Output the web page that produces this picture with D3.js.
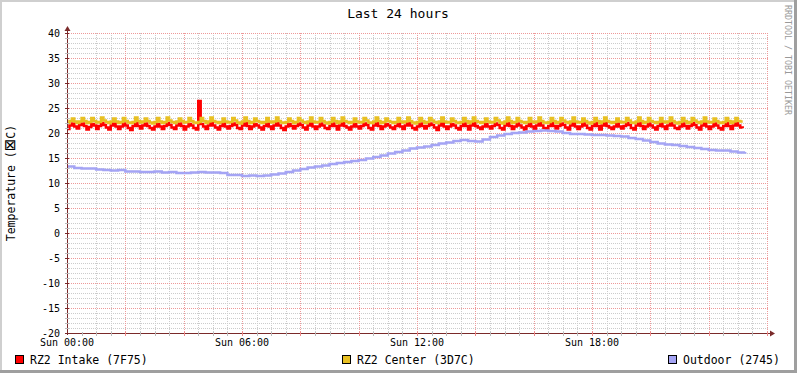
<!DOCTYPE html>
<html>
<head>
<meta charset="utf-8">
<script src="https://cdn.jsdelivr.net/npm/d3@7"></script>
<style>
body { margin: 0; background: #fff; }
svg text { font-family: "DejaVu Sans Mono", monospace; fill: #000; }
</style>
</head>
<body>
<svg id="chart" width="797" height="373"></svg>
<script>
// samples start Sunday 00:00
var startTime = new Date(2024, 0, 7, 0, 0);
var sampleMinutes = 5;      // intake / center step
var outdoorMinutes = 15;    // outdoor step

var intake = [
    20.8,21.5,21.9,21.3,20.9,21.6,21.9,21.4,20.7,
    21.2,21.8,21.5,20.8,21.4,22.0,21.6,21.1,20.7,
    21.5,21.9,21.3,20.8,21.3,21.9,21.5,21.0,20.6,
    21.4,22.0,21.4,20.9,21.5,21.9,21.4,21.0,20.7,
    21.3,21.8,21.3,20.8,21.4,22.0,21.6,21.1,20.8,
    21.5,21.9,21.4,20.7,21.3,21.8,21.5,21.0,20.7,
    26.4,21.8,21.3,20.8,21.5,22.0,21.5,21.1,20.7,
    21.4,21.9,21.3,20.9,21.4,21.9,21.6,21.0,20.8,
    21.5,22.0,21.4,20.8,21.3,21.8,21.5,21.1,20.7,
    21.4,21.9,21.3,20.8,21.5,22.0,21.5,21.0,20.6,
    21.3,21.8,21.4,20.9,21.4,21.9,21.6,21.1,20.7,
    21.5,22.0,21.3,20.8,21.3,21.9,21.5,21.0,20.8,
    21.4,21.9,21.4,20.7,21.5,22.0,21.4,21.1,20.7,
    21.3,21.8,21.3,20.9,21.4,21.9,21.6,21.0,20.7,
    21.5,22.0,21.4,20.8,21.3,21.8,21.5,21.1,20.8,
    21.4,21.9,21.3,20.8,21.5,22.0,21.5,21.0,20.7,
    21.3,21.9,21.4,20.9,21.4,21.9,21.6,21.1,20.6,
    21.5,22.0,21.3,20.8,21.3,21.8,21.5,21.0,20.7,
    21.4,21.9,21.4,20.7,21.5,22.0,21.4,21.1,20.8,
    21.3,21.8,21.3,20.9,21.4,21.9,21.6,21.0,20.7,
    21.5,22.0,21.4,20.8,21.3,21.9,21.5,21.1,20.7,
    21.4,21.9,21.3,20.8,21.5,22.1,21.5,21.0,20.8,
    21.4,22.0,21.4,20.9,21.4,21.9,21.6,21.1,20.7,
    21.5,22.1,21.3,20.8,21.3,21.9,21.5,21.0,20.7,
    21.4,22.0,21.4,20.7,21.5,22.1,21.4,21.1,20.8,
    21.3,21.9,21.3,20.9,21.4,22.0,21.6,21.0,20.7,
    21.5,22.1,21.4,20.8,21.3,21.9,21.5,21.1,20.7,
    21.4,22.0,21.3,20.8,21.5,22.1,21.5,21.0,20.8,
    21.3,21.9,21.4,20.9,21.4,22.0,21.6,21.1,20.7,
    21.5,22.1,21.3,20.8,21.3,21.9,21.5,21.0,20.7,
    21.4,22.0,21.4,20.8,21.5,22.0,21.5,21.1,21.0
];

var center = [
    22.0,22.4,22.9,22.3,22.0,22.3,23.0,22.4,22.0,
    22.2,23.0,22.4,22.1,22.2,23.1,22.5,22.2,22.0,
    22.3,22.9,22.3,22.0,22.2,23.0,22.4,22.1,22.0,
    22.2,23.1,22.4,22.1,22.3,22.9,22.4,22.1,21.9,
    22.2,23.0,22.3,22.0,22.2,23.1,22.5,22.2,22.0,
    22.3,22.9,22.4,22.1,22.2,23.0,22.4,22.1,22.0,
    22.2,23.0,22.4,22.0,22.3,23.1,22.4,22.2,22.0,
    22.2,22.9,22.3,22.1,22.2,23.0,22.5,22.1,21.9,
    22.3,23.1,22.4,22.0,22.2,22.9,22.4,22.2,22.0,
    22.2,23.0,22.3,22.1,22.3,23.1,22.4,22.1,22.0,
    22.2,22.9,22.4,22.0,22.2,23.0,22.5,22.2,22.0,
    22.3,23.1,22.3,22.1,22.2,23.0,22.4,22.1,21.9,
    22.2,23.0,22.4,22.0,22.3,23.1,22.4,22.2,22.0,
    22.2,22.9,22.3,22.1,22.2,23.0,22.5,22.1,22.0,
    22.3,23.1,22.4,22.0,22.2,22.9,22.4,22.2,22.0,
    22.2,23.0,22.3,22.1,22.3,23.1,22.4,22.1,21.9,
    22.2,23.0,22.4,22.0,22.2,23.0,22.5,22.2,22.0,
    22.3,23.1,22.3,22.1,22.2,22.9,22.4,22.1,22.0,
    22.2,23.0,22.4,22.0,22.3,23.1,22.4,22.2,22.0,
    22.2,22.9,22.3,22.1,22.2,23.0,22.5,22.1,21.9,
    22.3,23.1,22.4,22.0,22.2,23.0,22.4,22.2,22.0,
    22.2,23.0,22.3,22.1,22.3,23.1,22.4,22.1,22.0,
    22.2,23.0,22.4,22.0,22.2,23.0,22.5,22.2,22.0,
    22.3,23.1,22.3,22.1,22.2,22.9,22.4,22.1,21.9,
    22.2,23.0,22.4,22.0,22.3,23.1,22.4,22.2,22.0,
    22.2,22.9,22.3,22.1,22.2,23.0,22.5,22.1,22.0,
    22.3,23.1,22.4,22.0,22.2,23.0,22.4,22.2,22.0,
    22.2,23.0,22.3,22.1,22.3,23.1,22.4,22.1,21.9,
    22.2,23.0,22.4,22.0,22.2,23.0,22.5,22.2,22.0,
    22.3,23.1,22.3,22.1,22.2,22.9,22.4,22.1,22.0,
    22.2,23.0,22.4,22.0,22.3,23.0,22.4,22.3,22.3
];

var outdoor = [
    13.3,13.0,12.9,12.9,12.7,12.6,12.5,12.6,12.3,12.3,
    12.2,12.2,12.3,12.1,12.2,12.0,12.0,12.1,12.2,12.1,
    12.1,12.0,11.6,11.6,11.4,11.5,11.4,11.5,11.7,11.9,
    12.2,12.5,12.8,13.1,13.3,13.5,13.8,14.0,14.2,14.4,
    14.6,14.9,15.2,15.5,15.9,16.2,16.5,16.9,17.1,17.3,
    17.6,17.9,18.1,18.4,18.6,18.4,18.3,18.7,19.2,19.5,
    19.8,20.0,20.1,20.3,20.4,20.5,20.4,20.3,20.0,19.8,
    19.8,19.7,19.6,19.6,19.5,19.4,19.3,19.0,18.8,18.5,
    18.2,17.9,17.7,17.6,17.4,17.2,17.0,16.8,16.6,16.5,
    16.5,16.3,16.1,16.2
];

var yTickValues = [-20, -15, -10, -5, 0, 5, 10, 15, 20, 25, 30, 35, 40];
var xLabelHours = [0, 6, 12, 18];
var legendLabels = ["RZ2 Intake (7F75)", "RZ2 Center (3D7C)", "Outdoor (2745)"];
var titleText = "Last 24 hours";
var yTitleParts = ["Temperature (", "\u22A0", "C)"];
var watermark = "RRDTOOL / TOBI OETIKER";

var colors = ["#ff0000", "#e8c022", "#a4a4f4"];

var W = 797, H = 373;
var svg = d3.select("#chart");

var x = d3.scaleTime().domain([startTime, d3.timeHour.offset(startTime, 24)]).range([67, 767]);
var y = d3.scaleLinear().domain([-20, 40]).range([333, 33]);

// background + shade border
svg.append("rect").attr("width", W).attr("height", H).attr("fill", "#fff");
svg.append("rect").attr("x", 0).attr("y", 0).attr("width", W).attr("height", 2).attr("fill", "#cfcfcf");
svg.append("rect").attr("x", 0).attr("y", 0).attr("width", 2).attr("height", H).attr("fill", "#cfcfcf");
svg.append("rect").attr("x", W - 3).attr("y", 0).attr("width", 3).attr("height", H).attr("fill", "#9f9f9f");
svg.append("rect").attr("x", 0).attr("y", H - 3).attr("width", W).attr("height", 3).attr("fill", "#9f9f9f");

var grid = svg.append("g").attr("shape-rendering", "crispEdges").attr("stroke-dasharray", "1,1");
var x0 = x.range()[0], x1 = x.range()[1] + 2, y0 = y.range()[0], y1 = y.range()[1];

// minor grid
var minorX = x.ticks(d3.timeMinute.every(30)).filter(function(d) { return d.getMinutes() !== 0 || d.getHours() % 2 !== 0; });
var minorY = d3.range(-20, 41, 1).filter(function(v) { return v % 5 !== 0; });
grid.selectAll("line.mx").data(minorX.slice(1)).enter().append("line").attr("class", "mx")
    .attr("x1", function(d) { return Math.round(x(d)) + .5; }).attr("x2", function(d) { return Math.round(x(d)) + .5; })
    .attr("y1", y1).attr("y2", y0).attr("stroke", "#cccccc");
grid.selectAll("line.my").data(minorY).enter().append("line").attr("class", "my")
    .attr("x1", x0).attr("x2", x1)
    .attr("y1", function(d) { return Math.round(y(d)) + .5; }).attr("y2", function(d) { return Math.round(y(d)) + .5; })
    .attr("stroke", "#cccccc");

// major grid
var majorX = x.ticks(d3.timeHour.every(2)).slice(1);
grid.selectAll("line.Mx").data(majorX).enter().append("line").attr("class", "Mx")
    .attr("x1", function(d) { return Math.round(x(d)) + .5; }).attr("x2", function(d) { return Math.round(x(d)) + .5; })
    .attr("y1", y1).attr("y2", y0).attr("stroke", "#ee9999");
grid.selectAll("line.My").data(yTickValues.slice(1)).enter().append("line").attr("class", "My")
    .attr("x1", x0).attr("x2", x1)
    .attr("y1", function(d) { return Math.round(y(d)) + .5; }).attr("y2", function(d) { return Math.round(y(d)) + .5; })
    .attr("stroke", "#ee9999");

// series
function series(vals, step) {
    return vals.map(function(v, i) { return { t: d3.timeMinute.offset(startTime, i * step), v: v }; });
}
var line = d3.line().x(function(d) { return x(d.t); }).y(function(d) { return y(d.v); }).curve(d3.curveStepAfter);
var data = [series(intake, sampleMinutes), series(center, sampleMinutes), series(outdoor, outdoorMinutes)];
svg.append("g").selectAll("path").data(data).enter().append("path")
    .attr("d", line).attr("fill", "none")
    .attr("stroke", function(d, i) { return colors[i]; })
    .attr("stroke-width", 2.5).attr("stroke-linejoin", "miter");

// axes
var axisColor = "#7a2a2a";
var ax = svg.append("g").attr("shape-rendering", "crispEdges");
ax.append("line").attr("x1", x0 - 2).attr("x2", 770).attr("y1", y0 + .5).attr("y2", y0 + .5).attr("stroke", axisColor);
ax.append("line").attr("x1", x0 + .5).attr("x2", x0 + .5).attr("y1", y0 + 2).attr("y2", 30).attr("stroke", axisColor);
svg.append("path").attr("d", "M770,330.5L775,333.5L770,336.5Z").attr("fill", axisColor);
svg.append("path").attr("d", "M64.5,31L67.5,26L70.5,31Z").attr("fill", axisColor);

// tick marks
ax.selectAll("line.tx").data(x.ticks(d3.timeMinute.every(30)).slice(1)).enter().append("line")
    .attr("x1", function(d) { return Math.round(x(d)) + .5; }).attr("x2", function(d) { return Math.round(x(d)) + .5; })
    .attr("y1", y0 - 1).attr("y2", y0 + 3)
    .attr("stroke", function(d) { return d.getMinutes() === 0 && d.getHours() % 2 === 0 ? "#ee8888" : "#bbbbbb"; });
ax.selectAll("line.ty").data(d3.range(-20, 41, 1)).enter().append("line")
    .attr("x1", x0 - 2).attr("x2", x0 + 2)
    .attr("y1", function(d) { return Math.round(y(d)) + .5; }).attr("y2", function(d) { return Math.round(y(d)) + .5; })
    .attr("stroke", function(d) { return d % 5 === 0 ? "#7a2a2a" : "#bbbbbb"; });

// tick labels
svg.append("g").selectAll("text").data(yTickValues).enter().append("text")
    .attr("x", 60).attr("y", function(d) { return y(d) + 3.5; })
    .attr("text-anchor", "end").style("font-size", "10px").text(function(d) { return d; });
var fmt = d3.timeFormat("%a %H:%M");
svg.append("g").selectAll("text").data(xLabelHours).enter().append("text")
    .attr("x", function(d) { return x(d3.timeHour.offset(startTime, d)); }).attr("y", 345.5)
    .attr("text-anchor", "middle").style("font-size", "10px")
    .text(function(d) { return fmt(d3.timeHour.offset(startTime, d)); });

// title, y title, watermark
svg.append("text").attr("x", 398).attr("y", 18).attr("text-anchor", "middle").style("font-size", "13px").text(titleText);
var yt = svg.append("text").attr("transform", "translate(15,183) rotate(-90)").attr("text-anchor", "middle")
    .style("font-size", "11.5px");
yt.selectAll("tspan").data(yTitleParts).enter().append("tspan")
    .style("font-family", function(d, i) { return i === 1 ? "'DejaVu Sans', sans-serif" : null; })
    .style("font-size", function(d, i) { return i === 1 ? "15px" : null; })
    .text(function(d) { return d; });
svg.append("text").attr("transform", "translate(785,5) rotate(90)").attr("text-anchor", "start")
    .style("font-size", "8.3px").style("fill", "#999999").text(watermark);

// legend
var legendX = [15, 342, 668];
var lg = svg.append("g").selectAll("g").data(legendLabels).enter().append("g")
    .attr("transform", function(d, i) { return "translate(" + legendX[i] + ",355)"; });
lg.append("rect").attr("x", .5).attr("y", .5).attr("width", 8).attr("height", 8)
    .attr("fill", function(d, i) { return colors[i]; }).attr("stroke", "#000").attr("shape-rendering", "crispEdges");
lg.append("text").attr("x", 15).attr("y", 8.5).style("font-size", "11.5px").text(function(d) { return d; });
</script>
</body>
</html>
